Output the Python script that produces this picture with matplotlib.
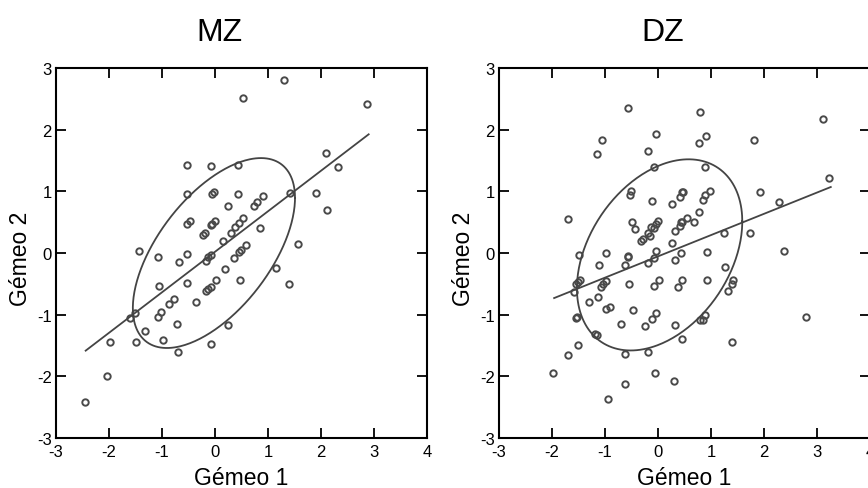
import matplotlib
matplotlib.use('Agg')
import matplotlib.pyplot as plt
import numpy as np

plt.rcParams['font.family'] = ['Liberation Sans', 'DejaVu Sans']
plt.rcParams['axes.unicode_minus'] = False

# MZ twins (Gemeo 1, Gemeo 2)
mz_x = [1.30, 0.53, 2.87, 2.09, 2.33, -0.53, -0.07, 0.43, -0.53, -0.05, -0.02, 0.43,
        0.25, 0.73, 0.80, 0.90, 1.42, 1.91, 2.12, 1.56, 1.16, 1.39, -0.53, -0.48,
        0.00, -0.05, -0.08, -0.22, -0.19, 0.30, 0.37, 0.45, 0.53, 0.85, 0.15, -1.44,
        -1.08, -0.53, -0.68, -0.08, -0.13, -0.17, 0.36, 0.45, 0.49, 0.58, 0.19, 0.48,
        -1.06, -0.53, -0.17, -0.13, -0.08, 0.01, -0.78, -0.87, -0.35, -1.01, -1.08,
        -1.51, -1.60, -1.32, -0.71, 0.25, -1.98, -1.49, -0.98, -0.69, -0.07, -2.04, -2.46]
mz_y = [2.80, 2.52, 2.41, 1.63, 1.40, 1.43, 1.41, 1.42, 0.95, 0.95, 0.99, 0.95,
        0.77, 0.77, 0.83, 0.93, 0.97, 0.98, 0.69, 0.15, -0.25, -0.50, 0.47, 0.52,
        0.52, 0.47, 0.45, 0.30, 0.33, 0.33, 0.42, 0.49, 0.57, 0.41, 0.19, 0.04,
        -0.07, -0.02, -0.15, -0.03, -0.07, -0.13, -0.08, 0.01, 0.05, 0.13, -0.26, -0.44,
        -0.54, -0.49, -0.62, -0.58, -0.55, -0.44, -0.74, -0.82, -0.79, -0.95, -1.03,
        -0.98, -1.06, -1.27, -1.15, -1.16, -1.45, -1.45, -1.41, -1.60, -1.47, -2.00, -2.41]

# DZ twins
dz_x = [-0.57, 0.80, 3.11, -0.03, -1.05, 0.90, 0.78, 1.81, -1.16, -0.19, -0.08, 0.88,
        3.23, -0.51, -0.53, 1.92, 2.29, -0.11, 0.27, 0.41, 0.46, 0.48, 0.89, 0.98,
        0.85, -1.70, -0.49, -0.44, -0.08, -0.04, 0.00, -0.13, -0.19, -0.15, -0.32, -0.28,
        0.32, 0.41, 0.46, 0.54, 0.43, 0.68, 0.77, 1.25, 1.73, 2.37, 0.27, -0.03,
        -0.99, -1.50, -0.57, -0.56, -0.63, -1.11, -0.19, -0.08, 0.32, 0.44, 0.93, 1.27,
        -1.47, -1.51, -1.55, -1.58, -0.98, -1.03, -1.07, -0.54, 0.02, -0.08, 0.45, 0.38,
        0.93, 1.41, 1.39, 1.32, -1.13, -1.31, -0.98, -0.90, -0.47, -0.04, -0.11, -0.25,
        -0.70, 0.32, 0.80, 0.84, 0.89, 2.80, -1.55, -1.53, 0.45, 1.39, -1.18, -1.16,
        -1.51, -1.69, -0.62, -0.19, -1.98, -0.06, 0.30, -0.63, -0.95]
dz_y = [2.35, 2.29, 2.17, 1.93, 1.83, 1.89, 1.78, 1.84, 1.61, 1.66, 1.39, 1.40,
        1.21, 1.00, 0.94, 0.99, 0.83, 0.85, 0.79, 0.91, 0.99, 0.99, 0.94, 1.00,
        0.86, 0.56, 0.51, 0.39, 0.40, 0.47, 0.52, 0.42, 0.33, 0.27, 0.20, 0.22,
        0.35, 0.44, 0.51, 0.57, 0.50, 0.51, 0.67, 0.32, 0.33, 0.03, 0.17, 0.04,
        0.00, -0.03, -0.07, -0.04, -0.20, -0.20, -0.16, -0.08, -0.12, 0.00, 0.01, -0.23,
        -0.44, -0.47, -0.50, -0.64, -0.45, -0.51, -0.55, -0.51, -0.44, -0.53, -0.44, -0.55,
        -0.44, -0.44, -0.50, -0.61, -0.72, -0.79, -0.91, -0.87, -0.92, -0.97, -1.07, -1.18,
        -1.15, -1.16, -1.08, -1.08, -1.00, -1.03, -1.06, -1.04, -1.40, -1.45, -1.31, -1.33,
        -1.49, -1.66, -1.63, -1.60, -1.95, -1.95, -2.07, -2.13, -2.37]

# regression lines: intercept, slope, x range
mz_fit = (0.02, 0.657, -2.44, 2.90)
dz_fit = (-0.054, 0.345, -1.96, 3.26)

# ellipses: centre x, centre y, sd x, sd y, correlation
mz_ell = (-0.02, 0.0, 1.53, 1.54, 0.58)
dz_ell = (0.03, -0.03, 1.56, 1.55, 0.35)

titles = ['MZ', 'DZ']
ticks = [-3, -2, -1, 0, 1, 2, 3, 4]
yticks = [-3, -2, -1, 0, 1, 2, 3]

fig = plt.figure(figsize=(8.68, 4.89), dpi=100)
ax1 = fig.add_axes([0.0645, 0.1022, 0.4274, 0.7566])
ax2 = fig.add_axes([0.5749, 0.1022, 0.4274, 0.7566])

dark = '#444444'
for ax, xs, ys, fit, ell, t in [(ax1, mz_x, mz_y, mz_fit, mz_ell, titles[0]),
                               (ax2, dz_x, dz_y, dz_fit, dz_ell, titles[1])]:
    ax.plot(xs, ys, 'o', ms=4.6, mfc='none', mec='#4a4a4a', mew=1.4)
    b0, b1, xa, xb = fit
    lx = np.array([xa, xb])
    ax.plot(lx, b0 + b1 * lx, color=dark, lw=1.3)
    cx, cy, sx, sy, r = ell
    tt = np.linspace(0, 2 * np.pi, 300)
    ex = cx + sx * np.cos(tt)
    ey = cy + sy * (r * np.cos(tt) + np.sqrt(1 - r ** 2) * np.sin(tt))
    ax.plot(ex, ey, color=dark, lw=1.3)
    ax.set_xlim(-3, 4)
    ax.set_ylim(-3, 3)
    ax.set_xticks(ticks)
    ax.set_yticks(yticks)
    ax.tick_params(direction='in', length=7, width=1.3, top=True, right=True,
                   labelsize=12, pad=4)
    ax.tick_params(axis='y', pad=3)
    for s in ax.spines.values():
        s.set_linewidth(1.5)
    ax.set_xlabel('Gémeo 1', fontsize=16.5, va='baseline')
    ax.set_ylabel('Gémeo 2', fontsize=16.5, va='center')
    ax.xaxis.set_label_coords(0.5, -0.125)
    ax.yaxis.set_label_coords(-0.097, 0.486)
    ax.text(0.44, 1.076, t, transform=ax.transAxes, ha='center', va='baseline', fontsize=23)

fig.savefig('out.png', dpi=100)
